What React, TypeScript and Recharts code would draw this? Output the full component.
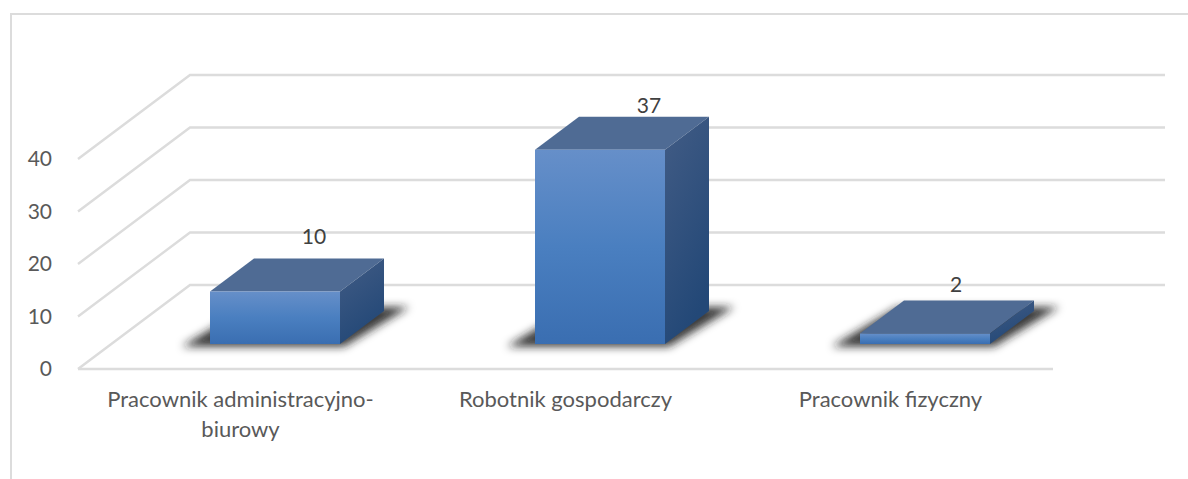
import React from "react";
import { BarChart, Bar, CartesianGrid, LabelList, XAxis, YAxis } from "recharts";

const categories = [
  "Pracownik administracyjno-biurowy",
  "Robotnik gospodarczy",
  "Pracownik fizyczny",
];
const counts = [10, 37, 2];
const yTicks = [0, 10, 20, 30, 40];

const data = categories.map((name, i) => ({ name, count: counts[i] }));

const FONT = "Lato, 'Open Sans', sans-serif";

// fake 3d: wall depth of the plot and depth of one bar
const WALL_DX = 112;
const WALL_DY = 84;
const FLOOR_DX = 34.5;
const FLOOR_DY = 25;
const BAR_DX = 44;
const BAR_DY = 33;

// small hand nudges for the data labels, excel placed them a bit unevenly
const labelNudge = [
  [73.5, -81.5],
  [83.5, -70],
  [65.5, -75.5],
];

const GridLine = (props: any) => {
  const { x1, x2, y1 } = props;
  return (
    <polyline
      points={`${x1},${y1} ${x1 + WALL_DX},${y1 - WALL_DY} ${x2 + WALL_DX},${y1 - WALL_DY}`}
      fill="none"
      stroke="#dcdcdc"
      strokeWidth={2.4}
    />
  );
};

const Bar3D = (props: any) => {
  const w = props.width;
  const h = props.height;
  const x = props.x + FLOOR_DX;
  const y = props.y - FLOOR_DY;
  const base = y + h;
  return (
    <g>
      <polygon
        points={`${x - 28},${base + 2.5} ${x + w + 4},${base + 2.5} ${x + w + BAR_DX + 25},${base - BAR_DY - 4} ${x + 38},${base - BAR_DY - 4}`}
        fill="#1c1c1c"
        fillOpacity={0.88}
        filter="url(#shadowBlur)"
      />
      <polygon
        points={`${x},${y} ${x + BAR_DX},${y - BAR_DY} ${x + w + BAR_DX},${y - BAR_DY} ${x + w},${y}`}
        fill="#4f6b94"
      />
      <polygon
        points={`${x + w},${y} ${x + w + BAR_DX},${y - BAR_DY} ${x + w + BAR_DX},${base - BAR_DY} ${x + w},${base}`}
        fill="url(#sideFace)"
      />
      <rect x={x} y={y} width={w} height={h} fill="url(#frontFace)" />
    </g>
  );
};

const ValueLabel = (props: any) => {
  const { x, y, width, value, index } = props;
  const [dx, dy] = labelNudge[index];
  return (
    <text
      x={x + width / 2 + dx}
      y={y + dy}
      textAnchor="middle"
      dominantBaseline="central"
      fontFamily={FONT}
      fontSize={21}
      fill="#404040"
    >
      {value}
    </text>
  );
};

const CategoryTick = (props: any) => {
  const { x, payload } = props;
  // the long name breaks after its hyphen
  const lines = payload.value.replace("-", "-\n").split("\n");
  return (
    <text textAnchor="middle" fontFamily={FONT} fontSize={22} fill="#595959">
      {lines.map((line: string, i: number) => (
        <tspan key={line} x={x} y={407 + i * 30}>
          {line}
        </tspan>
      ))}
    </text>
  );
};

const App = () => {
  return (
    <div
      style={{
        position: "absolute",
        left: 0,
        top: 0,
        width: 1188,
        height: 479,
        background: "#fff",
        overflow: "hidden",
      }}
    >
      <div
        style={{
          position: "absolute",
          left: 10,
          top: 13,
          width: 1178,
          height: 466,
          borderLeft: "2px solid #dcdcdc",
          borderTop: "2px solid #dcdcdc",
        }}
      />
      <div style={{ position: "absolute", left: 0, top: 0 }}>
        <BarChart
          width={1188}
          height={479}
          data={data}
          barCategoryGap="30%"
          margin={{ top: 159, right: 135, bottom: 0, left: 18 }}
        >
          <defs>
            <linearGradient id="frontFace" x1="0" y1="0" x2="0" y2="1">
              <stop offset="0%" stopColor="#668fc9" />
              <stop offset="50%" stopColor="#4a7fc0" />
              <stop offset="100%" stopColor="#3a6eb1" />
            </linearGradient>
            <linearGradient id="sideFace" x1="0" y1="0" x2="0.4" y2="1">
              <stop offset="0%" stopColor="#425c85" />
              <stop offset="100%" stopColor="#234877" />
            </linearGradient>
            <filter id="shadowBlur" x="-20%" y="-40%" width="140%" height="180%">
              <feGaussianBlur stdDeviation="4" />
            </filter>
          </defs>
          <CartesianGrid vertical={false} horizontal={GridLine} />
          <XAxis
            dataKey="name"
            height={110}
            tick={CategoryTick}
            tickLine={false}
            interval={0}
            axisLine={{ stroke: "#dcdcdc", strokeWidth: 2.4 }}
          />
          <YAxis
            width={60}
            domain={[0, 40]}
            ticks={yTicks}
            tickLine={false}
            axisLine={false}
            tickMargin={20}
            tick={{ fontFamily: FONT, fontSize: 21, fill: "#595959" }}
          />
          <Bar dataKey="count" shape={Bar3D} isAnimationActive={false}>
            <LabelList dataKey="count" content={ValueLabel} />
          </Bar>
        </BarChart>
      </div>
    </div>
  );
};

export default App;
